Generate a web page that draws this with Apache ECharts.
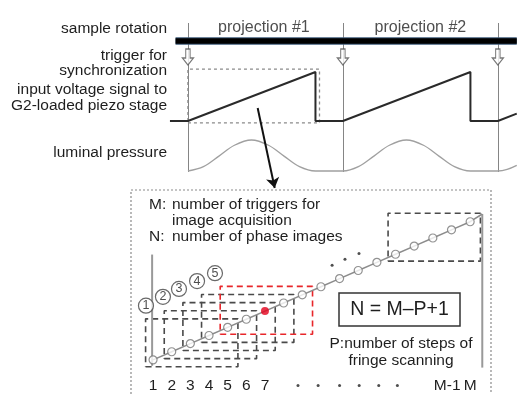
<!DOCTYPE html>
<html>
<head>
<meta charset="utf-8">
<script src="https://cdn.jsdelivr.net/npm/echarts@6/dist/echarts.min.js"></script>
<style>
  html, body { margin: 0; background: #fff; }
  #chart { width: 518px; height: 394px; }
</style>
</head>
<body>
<div id="chart"></div>
<script>
// ---- timing diagram (time measured in trigger periods) ----
const triggerTimes = [0, 1, 2];
const projectionLabels = ['projection #1', 'projection #2'];
const projectionTimes = [0.49, 1.5];
const voltage = [[-0.116, 0], [0, 0], [0.823, 1], [0.823, 0], [1, 0], [1.823, 1], [1.823, 0], [2, 0], [2.122, 0.15]];
const pressure = [
  [0, 0], [0.1, 0.14], [0.2, 0.48], [0.3, 0.83], [0.41, 1], [0.52, 0.83], [0.62, 0.48], [0.72, 0.14], [0.823, 0], [1, 0],
  [1.1, 0.14], [1.2, 0.48], [1.3, 0.83], [1.41, 1], [1.52, 0.83], [1.62, 0.48], [1.72, 0.14], [1.823, 0], [2, 0],
  [2.06, 0.05], [2.122, 0.18]
];

// ---- inset: triggers for image acquisition ----
const M = 18, P = 5;
const triggerIdx = [1, 2, 3, 4, 5, 6, 7, 8, 9, 10, 11, 12, 13, 14, 15, 16, 17, 18];
const windowStarts = [1, 2, 3, 4, 5, 14];
const windowNames = ['1', '2', '3', '4', '5', 'N'];
const windowLabelPos = [[0.62, 7.67], [1.53, 8.76], [2.39, 9.73], [3.36, 10.7], [4.32, 11.67], [13.27, 20.7]];
const highlightWindow = 5;
const highlightIdx = 7;
const tickText = { 1: '1', 2: '2', 3: '3', 4: '4', 5: '5', 6: '6', 7: '7', 17: 'M-1\u00a0\u00a0', 18: 'M' };
const gapDots = [[10.6, 12.64], [11.29, 13.37], [12.04, 14.1]];
const axisDots = [8.77, 9.85, 11, 12.05, 13.1, 14.1];

const FONT = '"Liberation Sans", Arial, sans-serif';
const chart = echarts.init(document.getElementById('chart'));

// time axis: 1 period = 155.5px, trigger 0 at x=188
const T0 = -0.12, T1 = 2.13;
const tGrid = (top, height) => ({ left: 188 + T0 * 155.5, width: (T1 - T0) * 155.5, top, height });

function boxPath(k) {
  const x0 = k - 0.4, x1 = k - 0.4 + (P - 0.05), y0 = k - 0.85, y1 = k + 5.05;
  return [[x0, y0], [x1, y0], [x1, y1], [x0, y1], [x0, y0]];
}

const hidden = { show: false };
const series = [];

// trigger lines + sample rotation bar
series.push({
  type: 'line', xAxisIndex: 0, yAxisIndex: 0, clip: false, symbol: 'none', z: 3,
  data: [[-0.08, 0.879], [2.122, 0.879]],
  lineStyle: { color: '#3d5a78', width: 7.5 },
  markLine: {
    silent: true, symbol: 'none', label: hidden, z: 1,
    lineStyle: { color: '#858585', width: 1, type: 'solid' },
    data: triggerTimes.map(t => ({ xAxis: t }))
  }
});
series.push({
  type: 'line', xAxisIndex: 0, yAxisIndex: 0, clip: false, symbol: 'none', z: 4,
  data: [[-0.08, 0.879], [2.122, 0.879]],
  lineStyle: { color: '#000', width: 5.5 }
});
// trigger arrows
series.push({
  type: 'scatter', xAxisIndex: 0, yAxisIndex: 0, z: 6,
  symbol: 'path://M3,0 L7,0 L7,9 L10,9 L5,16 L0,9 L3,9 Z',
  symbolSize: [11, 16],
  itemStyle: { color: '#fff', borderColor: '#555', borderWidth: 1.2 },
  data: triggerTimes.map(t => [t, 0.772])
});
// projection labels
series.push({
  type: 'scatter', xAxisIndex: 0, yAxisIndex: 0, symbolSize: 0,
  label: { show: true, position: 'inside', formatter: p => projectionLabels[p.dataIndex],
    fontFamily: FONT, fontSize: 16, color: '#222' },
  data: projectionTimes.map(t => [t, 0.966])
});
// zoom arrow
series.push({
  type: 'lines', coordinateSystem: 'cartesian2d', xAxisIndex: 0, yAxisIndex: 0, clip: false, z: 6,
  symbol: ['none', 'arrow'], symbolSize: 10,
  lineStyle: { color: '#111', width: 2, opacity: 1 },
  data: [{ coords: [[0.45, 0.43], [0.56, -0.107]] }]
});
// dotted frame around first ramp
series.push({
  type: 'line', xAxisIndex: 1, yAxisIndex: 1, clip: false, symbol: 'none',
  data: [[0, -0.04], [0.849, -0.04], [0.849, 1.06], [0, 1.06], [0, -0.04]],
  lineStyle: { color: '#8a8a8a', width: 1.3, type: [3, 3] }
});
// piezo voltage
series.push({
  type: 'line', xAxisIndex: 1, yAxisIndex: 1, clip: false, symbol: 'none', z: 4,
  data: voltage, lineStyle: { color: '#2a2a2a', width: 2 }
});
// luminal pressure
series.push({
  type: 'line', xAxisIndex: 2, yAxisIndex: 2, clip: false, symbol: 'none', smooth: 0.35,
  data: pressure, lineStyle: { color: '#a0a0a0', width: 1.3 }
});

// inset: vertical guide lines
series.push({
  type: 'line', xAxisIndex: 3, yAxisIndex: 3, clip: false, symbol: 'none',
  data: [[0.95, 0.27], [0.95, 13.96]], lineStyle: { color: '#999', width: 2 }
});
series.push({
  type: 'line', xAxisIndex: 3, yAxisIndex: 3, clip: false, symbol: 'none',
  data: [[18.65, 0.05], [18.65, 18.95]], lineStyle: { color: '#999', width: 2 }
});
// windows of P triggers
windowStarts.forEach((k) => {
  series.push({
    type: 'line', xAxisIndex: 3, yAxisIndex: 3, clip: false, symbol: 'none', z: 2,
    data: boxPath(k),
    lineStyle: { color: k === highlightWindow ? '#e8262a' : '#4a4a4a', width: 1.6, type: [6, 4] }
  });
});
// trigger ramp line
series.push({
  type: 'line', xAxisIndex: 3, yAxisIndex: 3, clip: false, symbol: 'none', z: 3,
  data: triggerIdx.map(i => [i, i]).concat([[18.65, 18.95]]),
  lineStyle: { color: '#8c8c8c', width: 1.5 }
});
series.push({
  type: 'scatter', xAxisIndex: 3, yAxisIndex: 3, z: 4, symbolSize: 8,
  itemStyle: { color: '#fff', borderColor: '#777', borderWidth: 1.2 },
  data: triggerIdx.filter(i => i !== highlightIdx).map(i => [i, i])
});
series.push({
  type: 'scatter', xAxisIndex: 3, yAxisIndex: 3, z: 5, symbolSize: 8,
  itemStyle: { color: '#e3001b' },
  data: [[highlightIdx, highlightIdx]]
});
// window labels (circled)
series.push({
  type: 'scatter', xAxisIndex: 3, yAxisIndex: 3, z: 5, symbolSize: 15,
  itemStyle: { color: '#fff', borderColor: '#444', borderWidth: 1.2 },
  label: { show: true, position: 'inside', formatter: p => windowNames[p.dataIndex],
    fontFamily: FONT, fontSize: 12.5, color: '#222' },
  data: windowLabelPos
});
// ellipsis dots
series.push({
  type: 'scatter', xAxisIndex: 3, yAxisIndex: 3, symbolSize: 3,
  itemStyle: { color: '#222' }, data: gapDots
});
series.push({
  type: 'scatter', xAxisIndex: 3, yAxisIndex: 3, symbolSize: 3, clip: false,
  itemStyle: { color: '#222' }, data: axisDots.map(x => [x, -2.16])
});

const leftLabels = [
  ['sample rotation', 29], ['trigger for', 56], ['synchronization', 71],
  ['input voltage signal to', 90], ['G2-loaded piezo stage', 106], ['luminal pressure', 153]
];
const textStyle = (extra) => Object.assign({ fontFamily: FONT, fontSize: 15.5, fill: '#1e1e1e' }, extra);

chart.setOption({
  animation: false,
  backgroundColor: '#fff',
  grid: [
    tGrid(23, 149),
    tGrid(72, 49),
    tGrid(140, 31),
    { left: 134.4, top: 213.6, width: 354.4, height: 156.6 }
  ],
  xAxis: [
    { type: 'value', gridIndex: 0, min: T0, max: T1, show: false },
    { type: 'value', gridIndex: 1, min: T0, max: T1, show: false },
    { type: 'value', gridIndex: 2, min: T0, max: T1, show: false },
    { type: 'value', gridIndex: 3, min: 0, max: 19, interval: 1,
      axisLine: hidden, axisTick: hidden, splitLine: hidden,
      axisLabel: { margin: 10, fontFamily: FONT, fontSize: 15.5, color: '#1e1e1e',
        formatter: v => tickText[v] || '' } }
  ],
  yAxis: [
    { type: 'value', gridIndex: 0, min: 0, max: 1, show: false },
    { type: 'value', gridIndex: 1, min: 0, max: 1, show: false },
    { type: 'value', gridIndex: 2, min: 0, max: 1, show: false },
    { type: 'value', gridIndex: 3, min: 0, max: 19, show: false }
  ],
  graphic: [
    ...leftLabels.map(([t, y]) => ({
      type: 'text', x: 167, y: y,
      style: textStyle({ text: t, align: 'right', verticalAlign: 'middle' })
    })),
    { type: 'rect', shape: { x: 131, y: 190, width: 360, height: 220 },
      style: { fill: 'none', stroke: '#8a8a8a', lineWidth: 1.2, lineDash: [2, 2] }, z: -1 },
    { type: 'text', x: 149, y: 205, style: textStyle({ text: 'M:', verticalAlign: 'middle' }) },
    { type: 'text', x: 172, y: 205, style: textStyle({ text: 'number of triggers for', verticalAlign: 'middle' }) },
    { type: 'text', x: 172, y: 221, style: textStyle({ text: 'image acquisition', verticalAlign: 'middle' }) },
    { type: 'text', x: 149, y: 237, style: textStyle({ text: 'N:', verticalAlign: 'middle' }) },
    { type: 'text', x: 172, y: 237, style: textStyle({ text: 'number of phase images', verticalAlign: 'middle' }) },
    { type: 'rect', shape: { x: 339, y: 293, width: 121, height: 33 },
      style: { fill: '#fff', stroke: '#333', lineWidth: 1.5 } },
    { type: 'text', x: 399.5, y: 310, style: textStyle({ text: 'N = M\u2013P+1', fontSize: 19.5, align: 'center', verticalAlign: 'middle' }) },
    { type: 'text', x: 401, y: 344, style: textStyle({ text: 'P:number of steps of', align: 'center', verticalAlign: 'middle' }) },
    { type: 'text', x: 401, y: 361, style: textStyle({ text: 'fringe scanning', align: 'center', verticalAlign: 'middle' }) }
  ],
  series: series
});
</script>
</body>
</html>
